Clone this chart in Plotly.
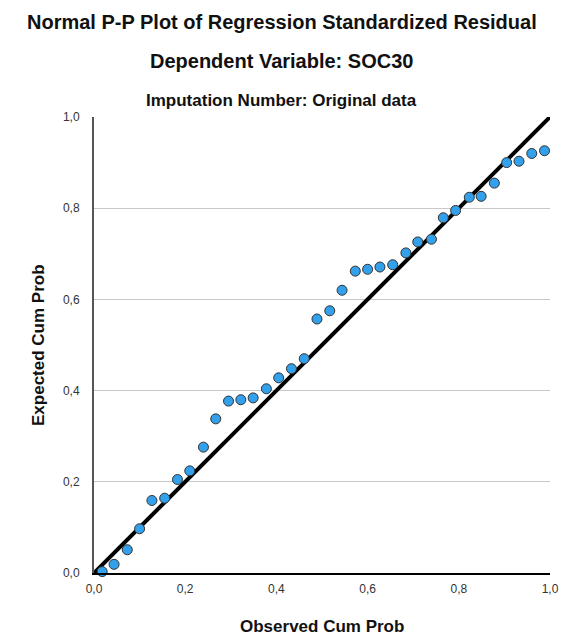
import plotly.graph_objects as go

observed = [0.018, 0.044, 0.073, 0.100, 0.127, 0.155, 0.183, 0.210, 0.240,
            0.267, 0.295, 0.322, 0.349, 0.378, 0.405, 0.433, 0.461, 0.489,
            0.517, 0.544, 0.573, 0.600, 0.627, 0.655, 0.684, 0.710, 0.740,
            0.766, 0.793, 0.823, 0.849, 0.878, 0.905, 0.932, 0.960, 0.988]
expected = [0.003, 0.019, 0.051, 0.097, 0.159, 0.164, 0.205, 0.224, 0.276,
            0.338, 0.377, 0.380, 0.384, 0.404, 0.428, 0.448, 0.470, 0.557,
            0.575, 0.620, 0.662, 0.666, 0.671, 0.676, 0.702, 0.726, 0.732,
            0.779, 0.795, 0.824, 0.826, 0.855, 0.900, 0.903, 0.920, 0.926]
ref_line = [0.0, 1.0]
tick_vals = [0.0, 0.2, 0.4, 0.6, 0.8, 1.0]
tick_text = ["0,0", "0,2", "0,4", "0,6", "0,8", "1,0"]

W, H = 563, 639
ML, MR, MT, MB = 94, 13, 117, 66

fig = go.Figure()
fig.add_trace(go.Scatter(x=ref_line, y=ref_line, mode="lines",
                         line=dict(color="black", width=4),
                         cliponaxis=False, hoverinfo="skip"))
fig.add_trace(go.Scatter(x=observed, y=expected, mode="markers",
                         marker=dict(size=10, color="#33a0ec",
                                     line=dict(color="#333333", width=1)),
                         cliponaxis=False))

font_main = "Liberation Sans, Arial, sans-serif"
fig.update_layout(
    width=W, height=H,
    margin=dict(l=ML, r=MR, t=MT, b=MB, autoexpand=False),
    paper_bgcolor="white", plot_bgcolor="white",
    showlegend=False,
    font=dict(family=font_main, color="#222222"),
    xaxis=dict(range=[0, 1], tickvals=tick_vals, ticktext=tick_text,
               showgrid=False, zeroline=False, showline=True,
               linecolor="black", linewidth=2, ticks="",
               ticklabelstandoff=4, automargin=False,
               tickfont=dict(size=12, color="#333333")),
    yaxis=dict(range=[0, 1], tickvals=tick_vals, ticktext=tick_text,
               showgrid=True, gridcolor="#c8c8c8", gridwidth=1,
               zeroline=False, showline=True,
               linecolor="#555555", linewidth=2, ticks="",
               ticklabelstandoff=10, automargin=False,
               tickfont=dict(size=12, color="#333333")),
)

plot_h = H - MT - MB
plot_w = W - ML - MR

def px_x(px):
    return (px - ML) / plot_w

def px_y(py):
    return (H - MB - py) / plot_h

titles = [
    ("<b>Normal P-P Plot of Regression Standardized Residual</b>", 22, 20,
     font_main),
    ("<b>Dependent Variable: SOC30</b>", 61, 20, font_main),
    ("<b>Imputation Number: Original data</b>", 100, 17,
     "Liberation Sans Narrow, Arial Narrow, Liberation Sans, sans-serif"),
]
for text, py, size, fam in titles:
    fig.add_annotation(text=text, xref="paper", yref="paper",
                       x=px_x(W / 2), y=px_y(py),
                       showarrow=False, yanchor="middle", xanchor="center",
                       font=dict(size=size, color="#111111", family=fam))

# axis titles
fig.add_annotation(text="<b>Observed Cum Prob</b>", xref="paper", yref="paper",
                   x=0.5, y=px_y(626), showarrow=False,
                   xanchor="center", yanchor="middle",
                   font=dict(size=17, color="#111111"))
fig.add_annotation(text="<b>Expected Cum Prob</b>", xref="paper", yref="paper",
                   x=px_x(38), y=0.5, showarrow=False, textangle=-90,
                   xanchor="center", yanchor="middle",
                   font=dict(size=17, color="#111111"))

fig.write_html(
    "out.html",
    config={"displayModeBar": False},
    post_script="document.body.style.margin='0';document.body.style.overflow='hidden';",
)
